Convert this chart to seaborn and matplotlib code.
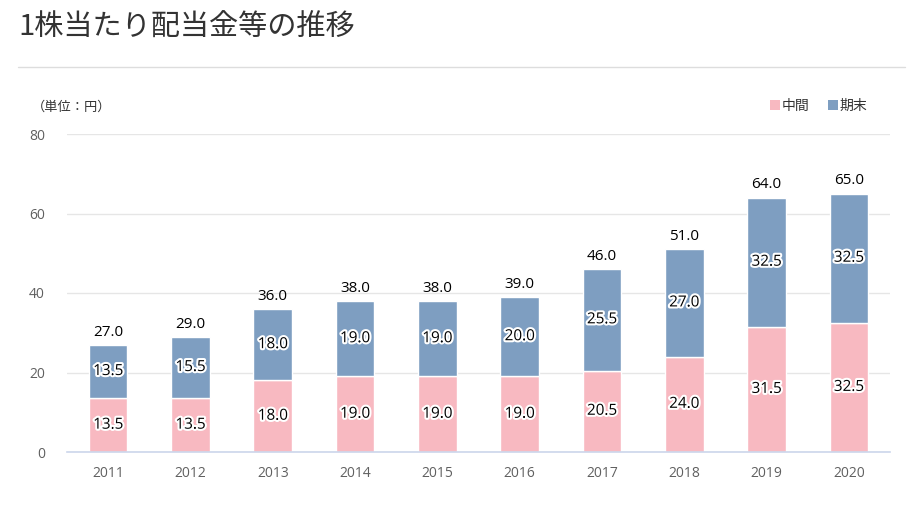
import matplotlib
matplotlib.use("Agg")
import matplotlib.pyplot as plt
import matplotlib.patheffects as pe
from matplotlib.lines import Line2D
from matplotlib.patches import Patch
import pandas as pd
import seaborn as sns

years = ["2011", "2012", "2013", "2014", "2015", "2016", "2017", "2018", "2019", "2020"]
interim = [13.5, 13.5, 18.0, 19.0, 19.0, 19.0, 20.5, 24.0, 31.5, 32.5]
year_end = [13.5, 15.5, 18.0, 19.0, 19.0, 20.0, 25.5, 27.0, 32.5, 32.5]
y_ticks = [0, 20, 40, 60, 80]

PINK = "#f8b9c1"
BLUE = "#7e9ec1"
AXIS = "#ccd6eb"
NUM_FONT = ["Open Sans", "DejaVu Sans"]

df = pd.DataFrame({"year": years, "interim": interim, "year_end": year_end})
df["total"] = df["interim"] + df["year_end"]

sns.set_theme(style="white")
plt.rcParams["font.family"] = ["Noto Sans CJK JP", "DejaVu Sans"]

fig = plt.figure(figsize=(9.14, 5.11), dpi=100)
ax = fig.add_axes([67 / 914, 1 - 452 / 511, 823 / 914, 318 / 511])

sns.barplot(data=df, x="year", y="interim", color=PINK, saturation=1, width=0.47,
            edgecolor="white", linewidth=1, ax=ax, zorder=3)
sns.barplot(data=df, x="year", y="year_end", color=BLUE, saturation=1, width=0.47,
            edgecolor="white", linewidth=1, bottom=df["interim"], ax=ax, zorder=3)

outline = [pe.withStroke(linewidth=3, foreground="white")]
for i, row in df.iterrows():
    ax.text(i, row["interim"] / 2, f"{row['interim']:.1f}", ha="center", va="center",
            fontsize=11, family=NUM_FONT, color="black", path_effects=outline, zorder=5)
    ax.text(i, row["interim"] + row["year_end"] / 2, f"{row['year_end']:.1f}", ha="center",
            va="center", fontsize=11, family=NUM_FONT, color="black", path_effects=outline,
            zorder=5)
    ax.text(i, row["total"] + 1.3, f"{row['total']:.1f}", ha="center", va="bottom",
            fontsize=11, family=NUM_FONT, color="black", zorder=5)

ax.set_xlim(-0.5, len(years) - 0.5)
ax.set_ylim(0, 80)
ax.set_yticks(y_ticks)
ax.set_xlabel("")
ax.set_ylabel("")
ax.grid(axis="y", color="#e6e6e6", linewidth=1, zorder=0)
ax.set_axisbelow(True)
for side in ["top", "right", "left"]:
    ax.spines[side].set_visible(False)
ax.spines["bottom"].set_color(AXIS)
ax.spines["bottom"].set_linewidth(1.2)
ax.spines["bottom"].set_zorder(4)

ax.set_xticks([i - 0.5 for i in range(len(years) + 1)], minor=True)
ax.tick_params(axis="x", which="minor", length=7, color=AXIS, width=1, direction="out")
ax.tick_params(axis="x", which="major", length=0, pad=10, labelsize=10, labelcolor="#606060")
ax.tick_params(axis="y", length=0, pad=16, labelsize=10, labelcolor="#606060")
for lab in ax.get_xticklabels() + ax.get_yticklabels():
    lab.set_family(NUM_FONT)

fig.text(18 / 914, 1 - 28 / 511, "1株当たり配当金等の推移", fontsize=21, color="#333333",
         ha="left", va="center")
fig.add_artist(Line2D([18 / 914, 905 / 914], [1 - 67 / 511, 1 - 67 / 511], color="#dddddd",
                      linewidth=1))
fig.text(32 / 914, 1 - 107 / 511, "（単位：円）", fontsize=9.5, color="#333333", ha="left",
         va="center")

handles = [Patch(facecolor=PINK, edgecolor="none", label="中間"),
           Patch(facecolor=BLUE, edgecolor="none", label="期末")]
fig.legend(handles=handles, loc="center right", bbox_to_anchor=(880 / 914, 1 - 106 / 511),
           ncol=2, frameon=False, fontsize=10, handlelength=0.7, handleheight=0.7,
           handletextpad=0.15, columnspacing=1.3, labelcolor="#333333")

fig.savefig("out.png", dpi=100)
